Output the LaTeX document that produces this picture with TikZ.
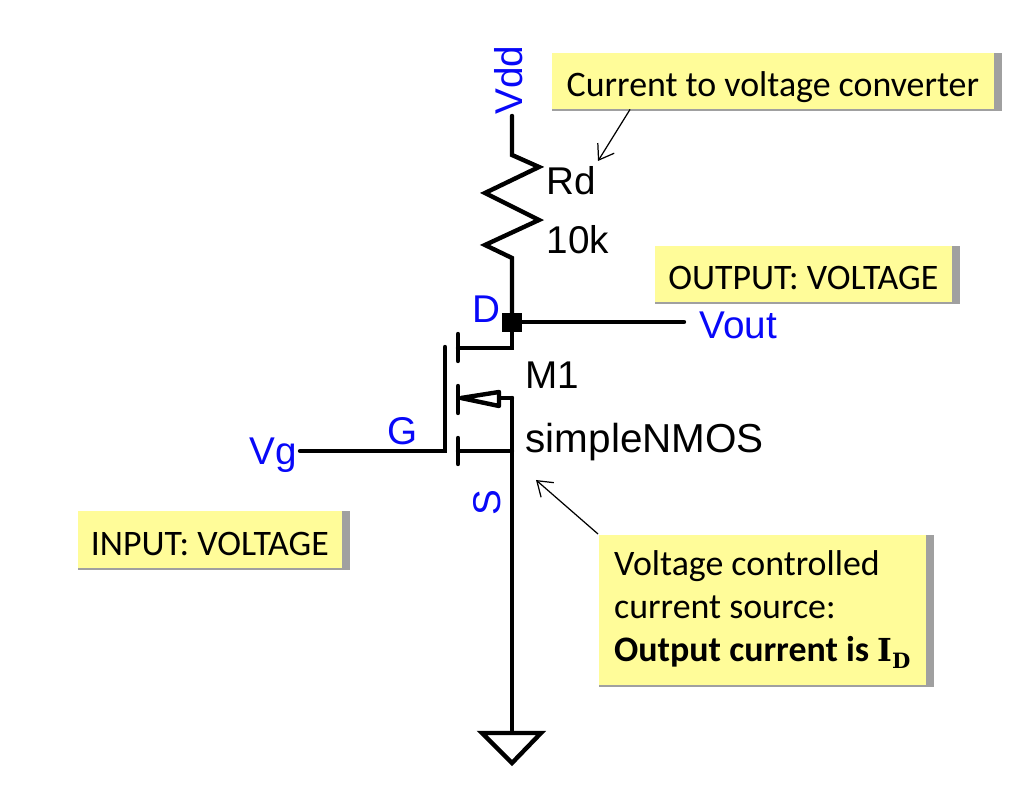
\documentclass[tikz,border=0pt]{standalone}
\usepackage{fontspec}
\setmainfont{Carlito}
\newfontfamily\schemfont{Liberation Sans}
\newfontfamily\idfont{DejaVu Serif}
\usetikzlibrary{arrows.meta,shadows}
\definecolor{notefill}{HTML}{FFFC99}
\definecolor{noteshade}{HTML}{A0A0A0}
\definecolor{pinblue}{HTML}{0808F8}
\tikzset{
  wire/.style={line width=1.25pt,line cap=round,line join=miter},
  pinlabel/.style={text=pinblue,font=\schemfont\fontsize{11}{13}\selectfont,inner sep=0pt},
  partlabel/.style={text=black,font=\schemfont\fontsize{11}{13}\selectfont,inner sep=0pt,anchor=west},
  notebox/.style={fill=notefill,anchor=north west,align=left,inner sep=0pt,
    font=\fontsize{10.2}{12.2}\selectfont,
    drop shadow={shadow xshift=0.08cm,shadow yshift=0cm,fill=noteshade,opacity=1},
    drop shadow={shadow xshift=0cm,shadow yshift=-0.02cm,fill=noteshade,opacity=1},
    drop shadow={shadow xshift=0.08cm,shadow yshift=-0.02cm,fill=noteshade,opacity=1}},
  oneline/.style={text height=9.2pt,text depth=0pt},
  notearrow/.style={-{Straight Barb[length=4pt,width=5.5pt]},line width=0.35pt}
}
\begin{document}
\begin{tikzpicture}[x=0.01cm,y=-0.01cm]
  \useasboundingbox (0,0) rectangle (1010,792);
  % circuit points
  \coordinate (vddpin) at (512,116);
  \coordinate (rtop) at (512,155);
  \coordinate (rbot) at (512,258);
  \coordinate (drain) at (512,322);
  \coordinate (dplate) at (458,348);
  \coordinate (bulk) at (512,398);
  \coordinate (source) at (512,451);
  \coordinate (splate) at (458,451);
  \coordinate (gatein) at (445,451);
  \coordinate (vgpin) at (300,451);
  \coordinate (voutpin) at (684,322);
  \coordinate (gnd) at (512,733);
  % resistor
  \draw[wire] (vddpin) -- (rtop) -- (539,167) -- (485,193) -- (539,220) -- (485,245) -- (rbot) -- (drain);
  \draw[wire] (drain) -- (voutpin);
  \fill (502,313) rectangle (522,332);
  % mosfet
  \draw[wire] (drain) -- (512,348) -- (dplate);
  \draw[wire] (458,334) -- (458,361);
  \draw[wire] (458,386) -- (458,413);
  \draw[wire] (458,438) -- (458,464);
  \draw[wire] (445,347) -- (gatein) -- (vgpin);
  \draw[wire] (splate) -- (source);
  \draw[wire] (bulk) -- (source) -- (gnd);
  \draw[wire] (bulk) -- (499,398);
  \draw[wire,fill=white,line join=round] (461,398) -- (499,392) -- (499,406) -- cycle;
  % ground
  \draw[wire,fill=white,line join=miter] (482,733) -- (541,733) -- (512,763) -- cycle;
  % labels
  \node[pinlabel,rotate=90] (vdd) at (509,80) {Vdd};
  \node[pinlabel] (dlabel) at (486,309) {D};
  \node[pinlabel,anchor=west] (vout) at (699,325) {Vout};
  \node[pinlabel] (glabel) at (403,431) {G};
  \node[pinlabel,anchor=east] (vg) at (298,455) {Vg};
  \node[pinlabel,rotate=90] (slabel) at (487,503) {S};
  \node[partlabel] (rd) at (546,181) {Rd};
  \node[partlabel] (rval) at (546,240) {10k};
  \node[partlabel] (mname) at (525,375) {M1};
  \node[partlabel,font=\schemfont\fontsize{11.5}{13}\selectfont] (mmodel) at (525,442) {simpleNMOS};
  % notes
  \node[notebox,oneline,minimum width=4.42cm,minimum height=0.56cm] (convbox) at (551,52) {Current to voltage converter};
  \node[notebox,oneline,minimum width=2.97cm,minimum height=0.56cm] (outbox) at (654,245) {OUTPUT: VOLTAGE};
  \node[notebox,oneline,minimum width=2.64cm,minimum height=0.57cm] (inbox) at (77,510) {INPUT: VOLTAGE};
  \node[notebox,minimum width=3.27cm,minimum height=1.5cm] (srcbox) at (598,534)
    {Voltage controlled\\current source:\\\textbf{Output current is} {\idfont\bfseries\fontsize{9}{12}\selectfont I}\raisebox{-2pt}{\idfont\bfseries\fontsize{6}{7}\selectfont D}};
  % pointers
  \coordinate (rdtip) at (598,161);
  \coordinate (srctip) at (536,480);
  \draw[notearrow] ([xshift=0.79cm]convbox.south west) -- (rdtip);
  \draw[notearrow] (srcbox.north west) -- (srctip);
\end{tikzpicture}
\end{document}
